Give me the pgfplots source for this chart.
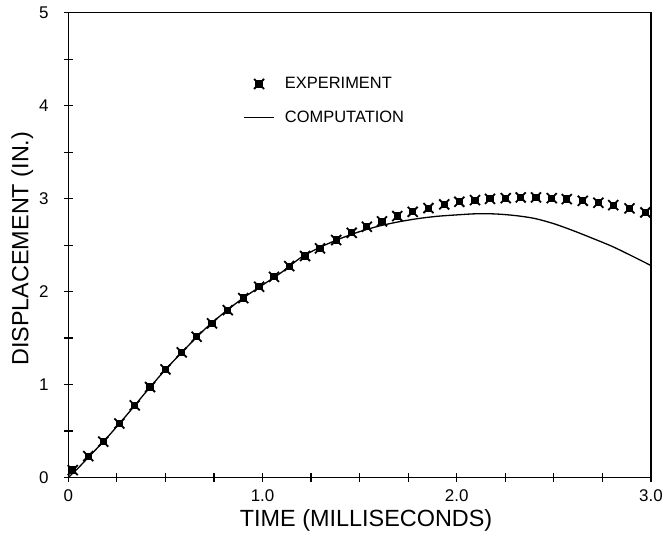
\documentclass[border=0pt]{standalone}
\usepackage{fontspec}
\setmainfont{Liberation Sans}
\usepackage{pgfplots}
\pgfplotsset{compat=1.18}

\pgfdeclareplotmark{blob}{%
  \pgfpathrectangle{\pgfpoint{-0.72\pgfplotmarksize}{-0.72\pgfplotmarksize}}{\pgfpoint{1.44\pgfplotmarksize}{1.44\pgfplotmarksize}}%
  \pgfusepathqfill
  \pgfpathmoveto{\pgfpoint{-\pgfplotmarksize}{-\pgfplotmarksize}}%
  \pgfpathlineto{\pgfpoint{\pgfplotmarksize}{\pgfplotmarksize}}%
  \pgfpathmoveto{\pgfpoint{-\pgfplotmarksize}{\pgfplotmarksize}}%
  \pgfpathlineto{\pgfpoint{\pgfplotmarksize}{-\pgfplotmarksize}}%
  \pgfusepathqstroke
}
\pgfplotsset{
  marklegend/.style={legend image code/.code={\path (0bp,0bp) (30bp,0bp);
    \draw[mark repeat=2,mark phase=2,##1] plot coordinates {(0bp,0bp)(15bp,0bp)(30bp,0bp)};}},
  linelegend/.style={legend image code/.code={\draw[##1] (0bp,0bp) -- (30bp,0bp);}},
}

\begin{document}
\begin{tikzpicture}
\begin{axis}[
  scale only axis, width=582.7bp, height=464.8bp,
  xmin=0, xmax=3, ymin=0, ymax=5,
  axis line style={line width=1.4bp},
  xtick={0,1,2,3}, xticklabels={0,1.0,2.0,3.0},
  minor x tick num=3,
  ytick={0,1,2,3,4,5}, minor y tick num=1,
  tick pos=left, tick align=center,
  major tick length=9bp, minor tick length=9bp,
  every tick/.style={black, line width=1.2bp},
  every minor tick/.style={black, line width=1.2bp},
  /pgf/number format/assume math mode=true,
  tick label style={font=\fontsize{17}{17}\selectfont, inner sep=0pt},
  xticklabel style={anchor=north, yshift=-7.5bp},
  yticklabel style={anchor=east, xshift=-15bp},
  xlabel={TIME (MILLISECONDS)},
  ylabel={DISPLACEMENT (IN.)},
  every axis x label/.style={at={(axis description cs:0.511,-0.0925)}, anchor=center,
    font=\fontsize{23.5}{24}\selectfont},
  every axis y label/.style={at={(axis description cs:-0.079,0.492)}, anchor=center,
    rotate=90, font=\fontsize{23.5}{24}\selectfont},
  legend cell align=left,
  legend style={draw=none, fill=none, at={(axis description cs:0.2998,0.861)},
    anchor=north west, inner sep=0pt, row sep=21bp,
    font=\fontsize{16.5}{16.5}\selectfont, nodes={inner sep=0pt},
    /tikz/every odd column/.append style={column sep=10bp}},
]
\addplot[only marks, mark=blob, mark size=5bp, line width=1.8bp, black, marklegend]
coordinates {
(0.023,0.08) (0.103,0.23) (0.180,0.385) (0.263,0.58) (0.342,0.776)
(0.421,0.973) (0.500,1.163) (0.584,1.346) (0.661,1.514) (0.740,1.658)
(0.821,1.800) (0.901,1.930) (0.982,2.052) (1.059,2.159) (1.137,2.274)
(1.219,2.382) (1.296,2.465) (1.379,2.554) (1.459,2.632) (1.537,2.697)
(1.615,2.755) (1.694,2.812) (1.773,2.858) (1.854,2.898) (1.935,2.938)
(2.013,2.966) (2.094,2.984) (2.171,2.998) (2.252,3.005) (2.329,3.013)
(2.408,3.013) (2.489,3.005) (2.566,2.995) (2.649,2.976) (2.729,2.955)
(2.806,2.930) (2.889,2.895) (2.971,2.852)
};
\addlegendentry{EXPERIMENT}
\addplot[black, line width=1.3bp, smooth, no marks, linelegend]
coordinates {
(0,0) (0.05,0.1) (0.1,0.21) (0.2,0.43) (0.3,0.67) (0.4,0.92) (0.5,1.16)
(0.6,1.38) (0.7,1.59) (0.8,1.77) (0.9,1.93) (1.0,2.07) (1.1,2.21)
(1.2,2.37) (1.3,2.48) (1.4,2.57) (1.5,2.645) (1.6,2.705) (1.7,2.75)
(1.8,2.785) (1.9,2.81) (2.0,2.825) (2.1,2.837) (2.2,2.835) (2.3,2.818)
(2.4,2.787) (2.5,2.73) (2.6,2.655) (2.7,2.572) (2.8,2.486) (2.9,2.385)
(3.0,2.28)
};
\addlegendentry{COMPUTATION}
\end{axis}
\path ([xshift=-68.3bp,yshift=-66.5bp]current axis.south west) rectangle ++(665bp,544bp);
\end{tikzpicture}
\end{document}
